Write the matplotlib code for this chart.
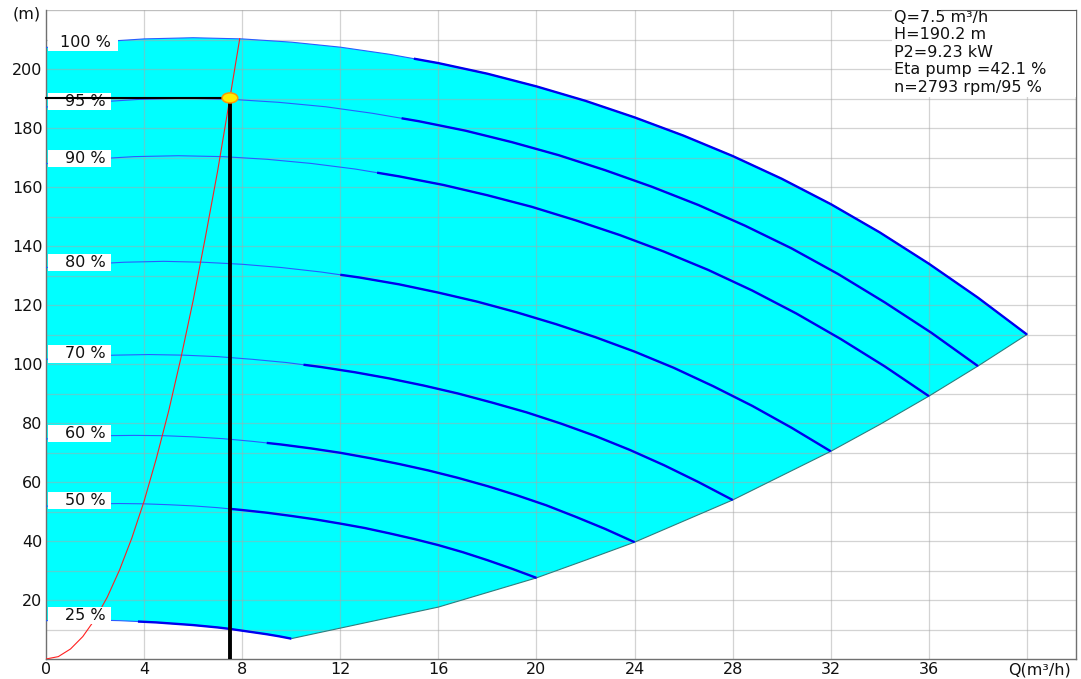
"""Pump performance chart: head vs flow at several speeds, with duty point."""

import numpy as np
import matplotlib
matplotlib.use("Agg")
import matplotlib.pyplot as plt
from matplotlib.patches import Ellipse, Rectangle

plt.rcParams["font.family"] = ["DejaVu Sans"]

# --- data ---
speed_labels = ["100 %", "95 %", "90 %", "80 %", "70 %", "60 %", "50 %", "25 %"]

q_100 = [0, 2, 4, 6, 8, 10, 12, 14, 16, 18, 20, 22, 24, 26, 28, 30, 32, 34, 36, 38, 40]
h_100 = [207.3, 209.1, 210.2, 210.6, 210.2, 209.1, 207.4, 205.0, 202.0, 198.4, 194.1,
         189.2, 183.6, 177.4, 170.5, 162.8, 154.2, 144.6, 134.0, 122.5, 110.0]
q_95 = [0, 1.9, 3.8, 5.7, 7.6, 9.5, 11.4, 13.3, 15.2, 17.1, 19.0,
        20.9, 22.8, 24.7, 26.6, 28.5, 30.4, 32.3, 34.2, 36.1, 38.0]
h_95 = [187.1, 188.7, 189.7, 190.1, 189.7, 188.7, 187.2, 185.0, 182.3, 179.1, 175.2,
        170.8, 165.7, 160.1, 153.9, 146.9, 139.2, 130.5, 120.9, 110.6, 99.3]
q_90 = [0, 1.8, 3.6, 5.4, 7.2, 9.0, 10.8, 12.6, 14.4, 16.2, 18.0,
        19.8, 21.6, 23.4, 25.2, 27.0, 28.8, 30.6, 32.4, 34.2, 36.0]
h_90 = [167.9, 169.4, 170.3, 170.6, 170.3, 169.4, 168.0, 166.1, 163.6, 160.7, 157.2,
        153.3, 148.7, 143.7, 138.1, 131.9, 124.9, 117.1, 108.5, 99.2, 89.1]
q_80 = [0, 1.6, 3.2, 4.8, 6.4, 8.0, 9.6, 11.2, 12.8, 14.4, 16.0,
        17.6, 19.2, 20.8, 22.4, 24.0, 25.6, 27.2, 28.8, 30.4, 32.0]
h_80 = [132.7, 133.8, 134.5, 134.8, 134.5, 133.8, 132.7, 131.2, 129.3, 127.0, 124.2,
        121.1, 117.5, 113.5, 109.1, 104.2, 98.7, 92.5, 85.8, 78.4, 70.4]
q_70 = [0, 1.4, 2.8, 4.2, 5.6, 7.0, 8.4, 9.8, 11.2, 12.6, 14.0,
        15.4, 16.8, 18.2, 19.6, 21.0, 22.4, 23.8, 25.2, 26.6, 28.0]
h_70 = [101.6, 102.5, 103.0, 103.2, 103.0, 102.5, 101.6, 100.5, 99.0, 97.2, 95.1,
        92.7, 90.0, 86.9, 83.6, 79.8, 75.6, 70.9, 65.7, 60.0, 53.9]
q_60 = [0, 1.2, 2.4, 3.6, 4.8, 6.0, 7.2, 8.4, 9.6, 10.8, 12.0,
        13.2, 14.4, 15.6, 16.8, 18.0, 19.2, 20.4, 21.6, 22.8, 24.0]
h_60 = [74.6, 75.3, 75.7, 75.8, 75.7, 75.3, 74.7, 73.8, 72.7, 71.4, 69.9,
        68.1, 66.1, 63.9, 61.4, 58.6, 55.5, 52.1, 48.2, 44.1, 39.6]
q_50 = [0, 1, 2, 3, 4, 5, 6, 7, 8, 9, 10, 11, 12, 13, 14, 15, 16, 17, 18, 19, 20]
h_50 = [51.8, 52.3, 52.6, 52.7, 52.6, 52.3, 51.9, 51.3, 50.5, 49.6, 48.5,
        47.3, 45.9, 44.4, 42.6, 40.7, 38.6, 36.2, 33.5, 30.6, 27.5]
q_25 = [0, 0.5, 1, 1.5, 2, 2.5, 3, 3.5, 4, 4.5, 5, 5.5, 6, 6.5, 7, 7.5, 8, 8.5, 9, 9.5, 10]
h_25 = [13.0, 13.1, 13.1, 13.2, 13.1, 13.1, 13.0, 12.8, 12.6, 12.4, 12.1,
        11.8, 11.5, 11.1, 10.7, 10.2, 9.6, 9.0, 8.4, 7.7, 6.9]

# flow where each curve switches from thin to thick line
thick_from = [15.0, 14.5, 13.5, 12.0, 10.5, 9.0, 7.5, 3.75]

# max-flow limit line
edge_q = [10, 16, 20, 22, 24, 28, 32, 34, 36, 38, 40]
edge_h = [6.9, 17.6, 27.5, 33.5, 39.6, 53.9, 70.4, 79.5, 89.1, 99.3, 110.0]

# system curve
sys_q = [0, 0.5, 1, 1.5, 2, 2.5, 3, 3.5, 4, 4.5, 5, 5.5, 6, 6.5, 7, 7.5, 7.9]
sys_h = [0, 0.8, 3.4, 7.6, 13.5, 21.0, 30.2, 41.0, 53.5, 68.0, 84.0, 102.0,
         121.5, 143.0, 165.5, 190.2, 210.3]

duty_q, duty_h = 7.5, 190.2
info_lines = ["Q=7.5 m³/h", "H=190.2 m", "P2=9.23 kW", "Eta pump =42.1 %", "n=2793 rpm/95 %"]

curves_q = [q_100, q_95, q_90, q_80, q_70, q_60, q_50, q_25]
curves_h = [h_100, h_95, h_90, h_80, h_70, h_60, h_50, h_25]

FS = 11.5

# --- figure ---
fig = plt.figure(figsize=(10.81, 6.79), dpi=100)
ax = fig.add_axes([46 / 1081, 20 / 679, 1030 / 1081, 649 / 679])
ax.set_xlim(0, 42)
ax.set_ylim(0, 220)

# operating region
poly_q = q_100 + edge_q[::-1] + q_25[::-1]
poly_h = h_100 + edge_h[::-1] + h_25[::-1]
ax.fill(poly_q, poly_h, color="#00ffff", lw=0, zorder=1)
ax.plot(edge_q, edge_h, color="#2e7d7d", lw=0.8, zorder=3)

# grid over the fill
for gx in range(4, 41, 4):
    ax.axvline(gx, color="#a8a8a8", lw=0.9, alpha=0.5, zorder=2)
for gy in range(10, 221, 10):
    ax.axhline(gy, color="#a8a8a8", lw=0.9, alpha=0.5, zorder=2)

for qs, hs, q0 in zip(curves_q, curves_h, thick_from):
    qs, hs = np.array(qs, float), np.array(hs, float)
    ax.plot(qs, hs, color="#2a5cff", lw=0.8, zorder=4)
    m = qs > q0
    tq = np.r_[q0, qs[m]]
    th = np.r_[np.interp(q0, qs, hs), hs[m]]
    ax.plot(tq, th, color="#0000ee", lw=1.7, zorder=5,
            solid_capstyle="butt", solid_joinstyle="round")

# speed labels on white boxes
for lab, hs in zip(speed_labels, curves_h):
    yc = hs[0] + 1.8
    bw = 2.85 if len(lab) > 4 else 2.55
    ax.add_patch(Rectangle((0.1, yc - 2.9), bw, 5.8, fc="white", ec="none", zorder=7))
    ax.text(1.6, yc, lab, ha="center", va="center", fontsize=FS,
            color="#111111", zorder=8)

# system curve
ax.plot(sys_q, sys_h, color="#ff2020", lw=0.8, zorder=6)

# duty point
ax.plot([0, duty_q], [duty_h, duty_h], color="black", lw=1.5, zorder=8, clip_on=False)
ax.plot([duty_q, duty_q], [duty_h, 0], color="black", lw=2.8, zorder=8)
ax.add_patch(Ellipse((duty_q, duty_h), 0.64, 3.4, fc="#ffee00", ec="#ff9900",
                     lw=1.1, zorder=9))

# info box
ax.add_patch(Rectangle((34.49, 190.5), 42 - 34.49, 29.5, fc="white", ec="none", zorder=9))
for i, line in enumerate(info_lines):
    ax.text(34.57, 217.6 - 5.93 * i, line, ha="left", va="center", fontsize=FS,
            color="#111111", zorder=10)
ax.plot([36.5, 42], [220, 220], color="#555555", lw=0.8, zorder=10, clip_on=False)

# axes styling
ax.set_xticks(range(0, 37, 4))
ax.set_yticks(range(20, 201, 20))
ax.tick_params(length=0, labelsize=FS, pad=2.5, colors="#111111")
ax.text(40.5, -1.2, "Q(m³/h)", ha="center", va="top", fontsize=FS, color="#111111")
ax.text(-0.2, 218.5, "(m)", ha="right", va="center", fontsize=FS, color="#111111")
for side in ("left", "bottom", "right"):
    ax.spines[side].set_color("#707070")
    ax.spines[side].set_linewidth(1.0)
ax.spines["top"].set_visible(False)
ax.axhline(220, color="#d8d8d8", lw=0.9, zorder=0)

fig.savefig("out.png", dpi=100)
